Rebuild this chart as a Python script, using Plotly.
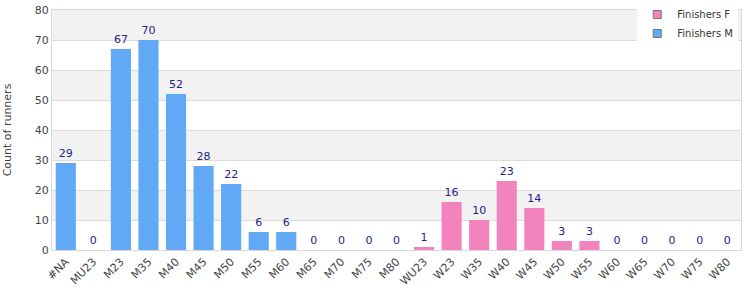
import plotly.graph_objects as go

categories = ["#NA", "MU23", "M23", "M35", "M40", "M45", "M50", "M55", "M60", "M65", "M70", "M75", "M80",
              "WU23", "W23", "W35", "W40", "W45", "W50", "W55", "W60", "W65", "W70", "W75", "W80"]
m_cats = ["#NA", "MU23", "M23", "M35", "M40", "M45", "M50", "M55", "M60", "M65", "M70", "M75", "M80"]
m_vals = [29, 0, 67, 70, 52, 28, 22, 6, 6, 0, 0, 0, 0]
f_cats = ["WU23", "W23", "W35", "W40", "W45", "W50", "W55", "W60", "W65", "W70", "W75", "W80"]
f_vals = [1, 16, 10, 23, 14, 3, 3, 0, 0, 0, 0, 0]
y_ticks = [0, 10, 20, 30, 40, 50, 60, 70, 80]

font_family = "DejaVu Sans, Verdana, sans-serif"
label_color = "#22228c"
pink = "#f383bd"
blue = "#61a9f4"

fig = go.Figure()
fig.add_trace(go.Bar(x=f_cats, y=f_vals, name="Finishers F", marker=dict(color=pink, line=dict(width=0)),
                     text=f_vals, textposition="outside", cliponaxis=False, showlegend=False,
                     textfont=dict(color=label_color, size=11, family=font_family)))
fig.add_trace(go.Bar(x=m_cats, y=m_vals, name="Finishers M", marker=dict(color=blue, line=dict(width=0)),
                     text=m_vals, textposition="outside", cliponaxis=False, showlegend=False,
                     textfont=dict(color=label_color, size=11, family=font_family)))
# legend entries
for nm, col in [("Finishers F", pink), ("Finishers M", blue)]:
    fig.add_trace(go.Scatter(x=[None], y=[None], mode="markers", name=nm,
                             marker=dict(symbol="square", size=8, color=col,
                                         line=dict(color="#777", width=1))))

shapes = []
for i in range(len(y_ticks) - 1):
    if i % 2 == 1:
        shapes.append(dict(type="rect", xref="paper", yref="y", x0=0, x1=1,
                           y0=y_ticks[i], y1=y_ticks[i + 1], fillcolor="#f2f2f2",
                           line=dict(width=0), layer="below"))

fig.update_layout(
    width=750, height=300,
    margin=dict(l=52, r=9, t=0, b=50),
    barmode="overlay", bargap=0.27,
    plot_bgcolor="rgba(0,0,0,0)", paper_bgcolor="white",
    font=dict(family=font_family, size=11, color="#444"),
    shapes=shapes,
    showlegend=True,
    legend=dict(x=0.996, y=1.0, xanchor="right", yanchor="top",
                bgcolor="white", font=dict(size=10, color="#333"), traceorder="normal",
                itemwidth=30, tracegroupgap=0, borderwidth=0),
    xaxis=dict(categoryorder="array", categoryarray=categories, tickangle=-45,
               showgrid=False, showline=True, linecolor="#d9d9d9", mirror=True, automargin="bottom",
               ticks="", tickfont=dict(size=11, color="#444")),
    yaxis=dict(range=[0, 80], domain=[0, 0.96], tickvals=y_ticks, showgrid=True, gridcolor="#dcdcdc",
               showline=True, linecolor="#d9d9d9", mirror=True, zeroline=False, automargin="left",
               ticks="", tickfont=dict(size=11, color="#444"),
               title=dict(text="Count of runners", font=dict(size=11, color="#444"), standoff=20)),
)

fig.write_html("out.html")
